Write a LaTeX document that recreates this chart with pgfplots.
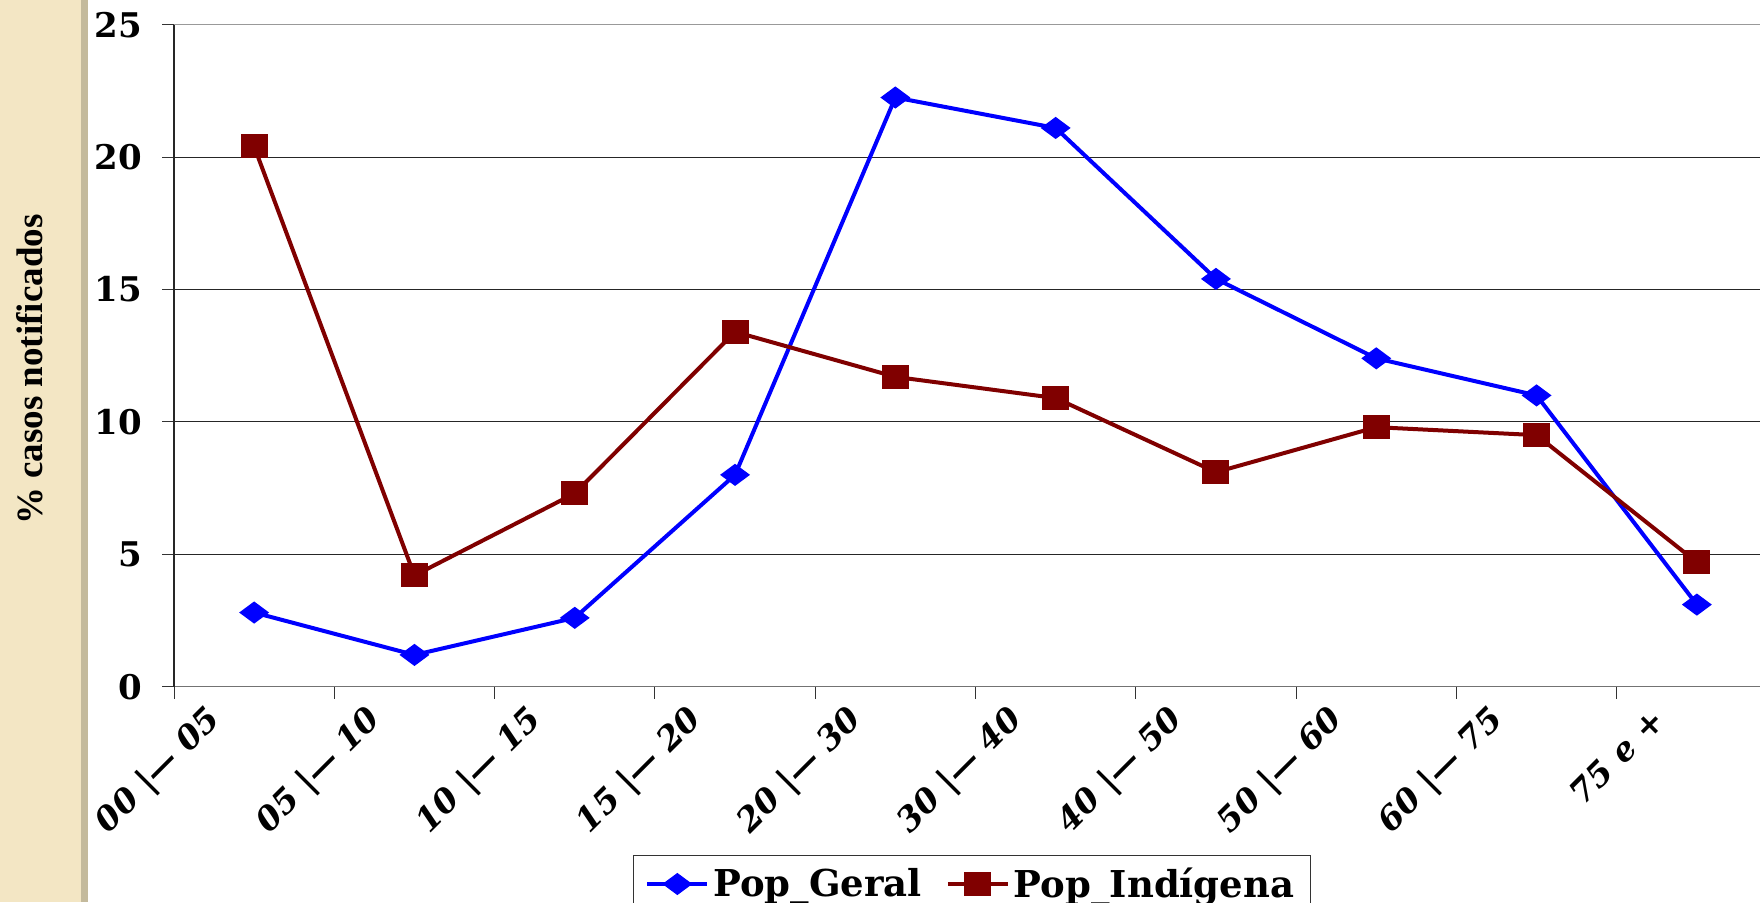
\documentclass[border=0pt]{standalone}
\usepackage{pgfplots}
\pgfplotsset{compat=1.18}
\usepackage{fontspec}
\setmainfont{DejaVu Serif}
\newfontfamily\lib{Liberation Serif}
\definecolor{pgblue}{RGB}{0,0,255}
\definecolor{pired}{RGB}{128,0,0}
\definecolor{beige}{RGB}{243,230,196}
\definecolor{beigeb}{RGB}{196,186,156}
\begin{document}
\begin{tikzpicture}
\path[use as bounding box] (-87pt,-107.7pt) rectangle (793pt,343.35pt);
\clip (-87pt,-107.7pt) rectangle (793pt,343.35pt);
\fill[white] (-87pt,-107.7pt) rectangle (793pt,343.35pt);
\fill[beige] (-87pt,-107.7pt) rectangle (-46.5pt,343.35pt);
\fill[beigeb] (-46.5pt,-107.7pt) rectangle (-43pt,343.35pt);
\node[rotate=90, font=\lib\bfseries\fontsize{18.5}{21}\selectfont] at (-72pt,158.5pt) {\% casos notificados};
\begin{axis}[
  at={(0pt,0pt)}, anchor=south west, scale only axis,
  width=793pt, height=331pt,
  xmin=0, xmax=9.894, ymin=0, ymax=25,
  axis x line*=bottom, axis y line*=left,
  x axis line style={draw=black!55, line width=0.6pt},
  y axis line style={draw=black!85, line width=0.8pt},
  xtick={0,1,2,3,4,5,6,7,8,9},
  xticklabels={00 |— 05, 05 |— 10, 10 |— 15, 15 |— 20, 20 |— 30, 30 |— 40, 40 |— 50, 50 |— 60, 60 |— 75, 75 e +},
  ytick={0,5,10,15,20},
  extra y ticks={25},
  extra y tick style={grid style={draw=black!40, line width=0.7pt}},
  ymajorgrids,
  grid style={draw=black!85, line width=0.5pt},
  tick align=outside,
  major tick length=6pt,
  tick style={draw=black!80, line width=0.5pt},
  /pgf/number format/assume math mode=true,
  yticklabel style={font=\bfseries\fontsize{17}{19}\selectfont, anchor=east, inner sep=0pt, xshift=-9.8pt},
  xticklabel style={font=\bfseries\itshape\fontsize{16.5}{18}\selectfont, inner sep=0pt, xshift=21pt, yshift=-8pt, rotate=45, anchor=east},
  legend style={at={(0.503,-0.2544)}, anchor=north, draw=black!80, line width=0.6pt, fill=white,
    font=\bfseries\fontsize{18.5}{21}\selectfont, inner xsep=6pt, inner ysep=4pt,
    /tikz/every even column/.append style={column sep=10pt}},
  legend columns=2,
  legend image code/.code={\draw[mark repeat=2, mark phase=2] plot coordinates {(0pt,0pt) (15pt,0pt) (30pt,0pt)};},
]
\addplot[color=pgblue, line width=2pt, mark=diamond*, mark size=4.3pt, mark options={xscale=1.8, solid}]
  coordinates {(0.5,2.8) (1.5,1.2) (2.5,2.6) (3.5,8.0) (4.5,22.25) (5.5,21.1) (6.5,15.4) (7.5,12.4) (8.5,11.0) (9.5,3.1)};
\addlegendentry{Pop\_Geral}
\addplot[color=pired, line width=2pt, mark=square*, mark size=5pt, mark options={xscale=1.15, solid}]
  coordinates {(0.5,20.4) (1.5,4.2) (2.5,7.3) (3.5,13.4) (4.5,11.7) (5.5,10.9) (6.5,8.1) (7.5,9.8) (8.5,9.5) (9.5,4.7)};
\addlegendentry{Pop\_Indígena}
\end{axis}
\end{tikzpicture}
\end{document}
